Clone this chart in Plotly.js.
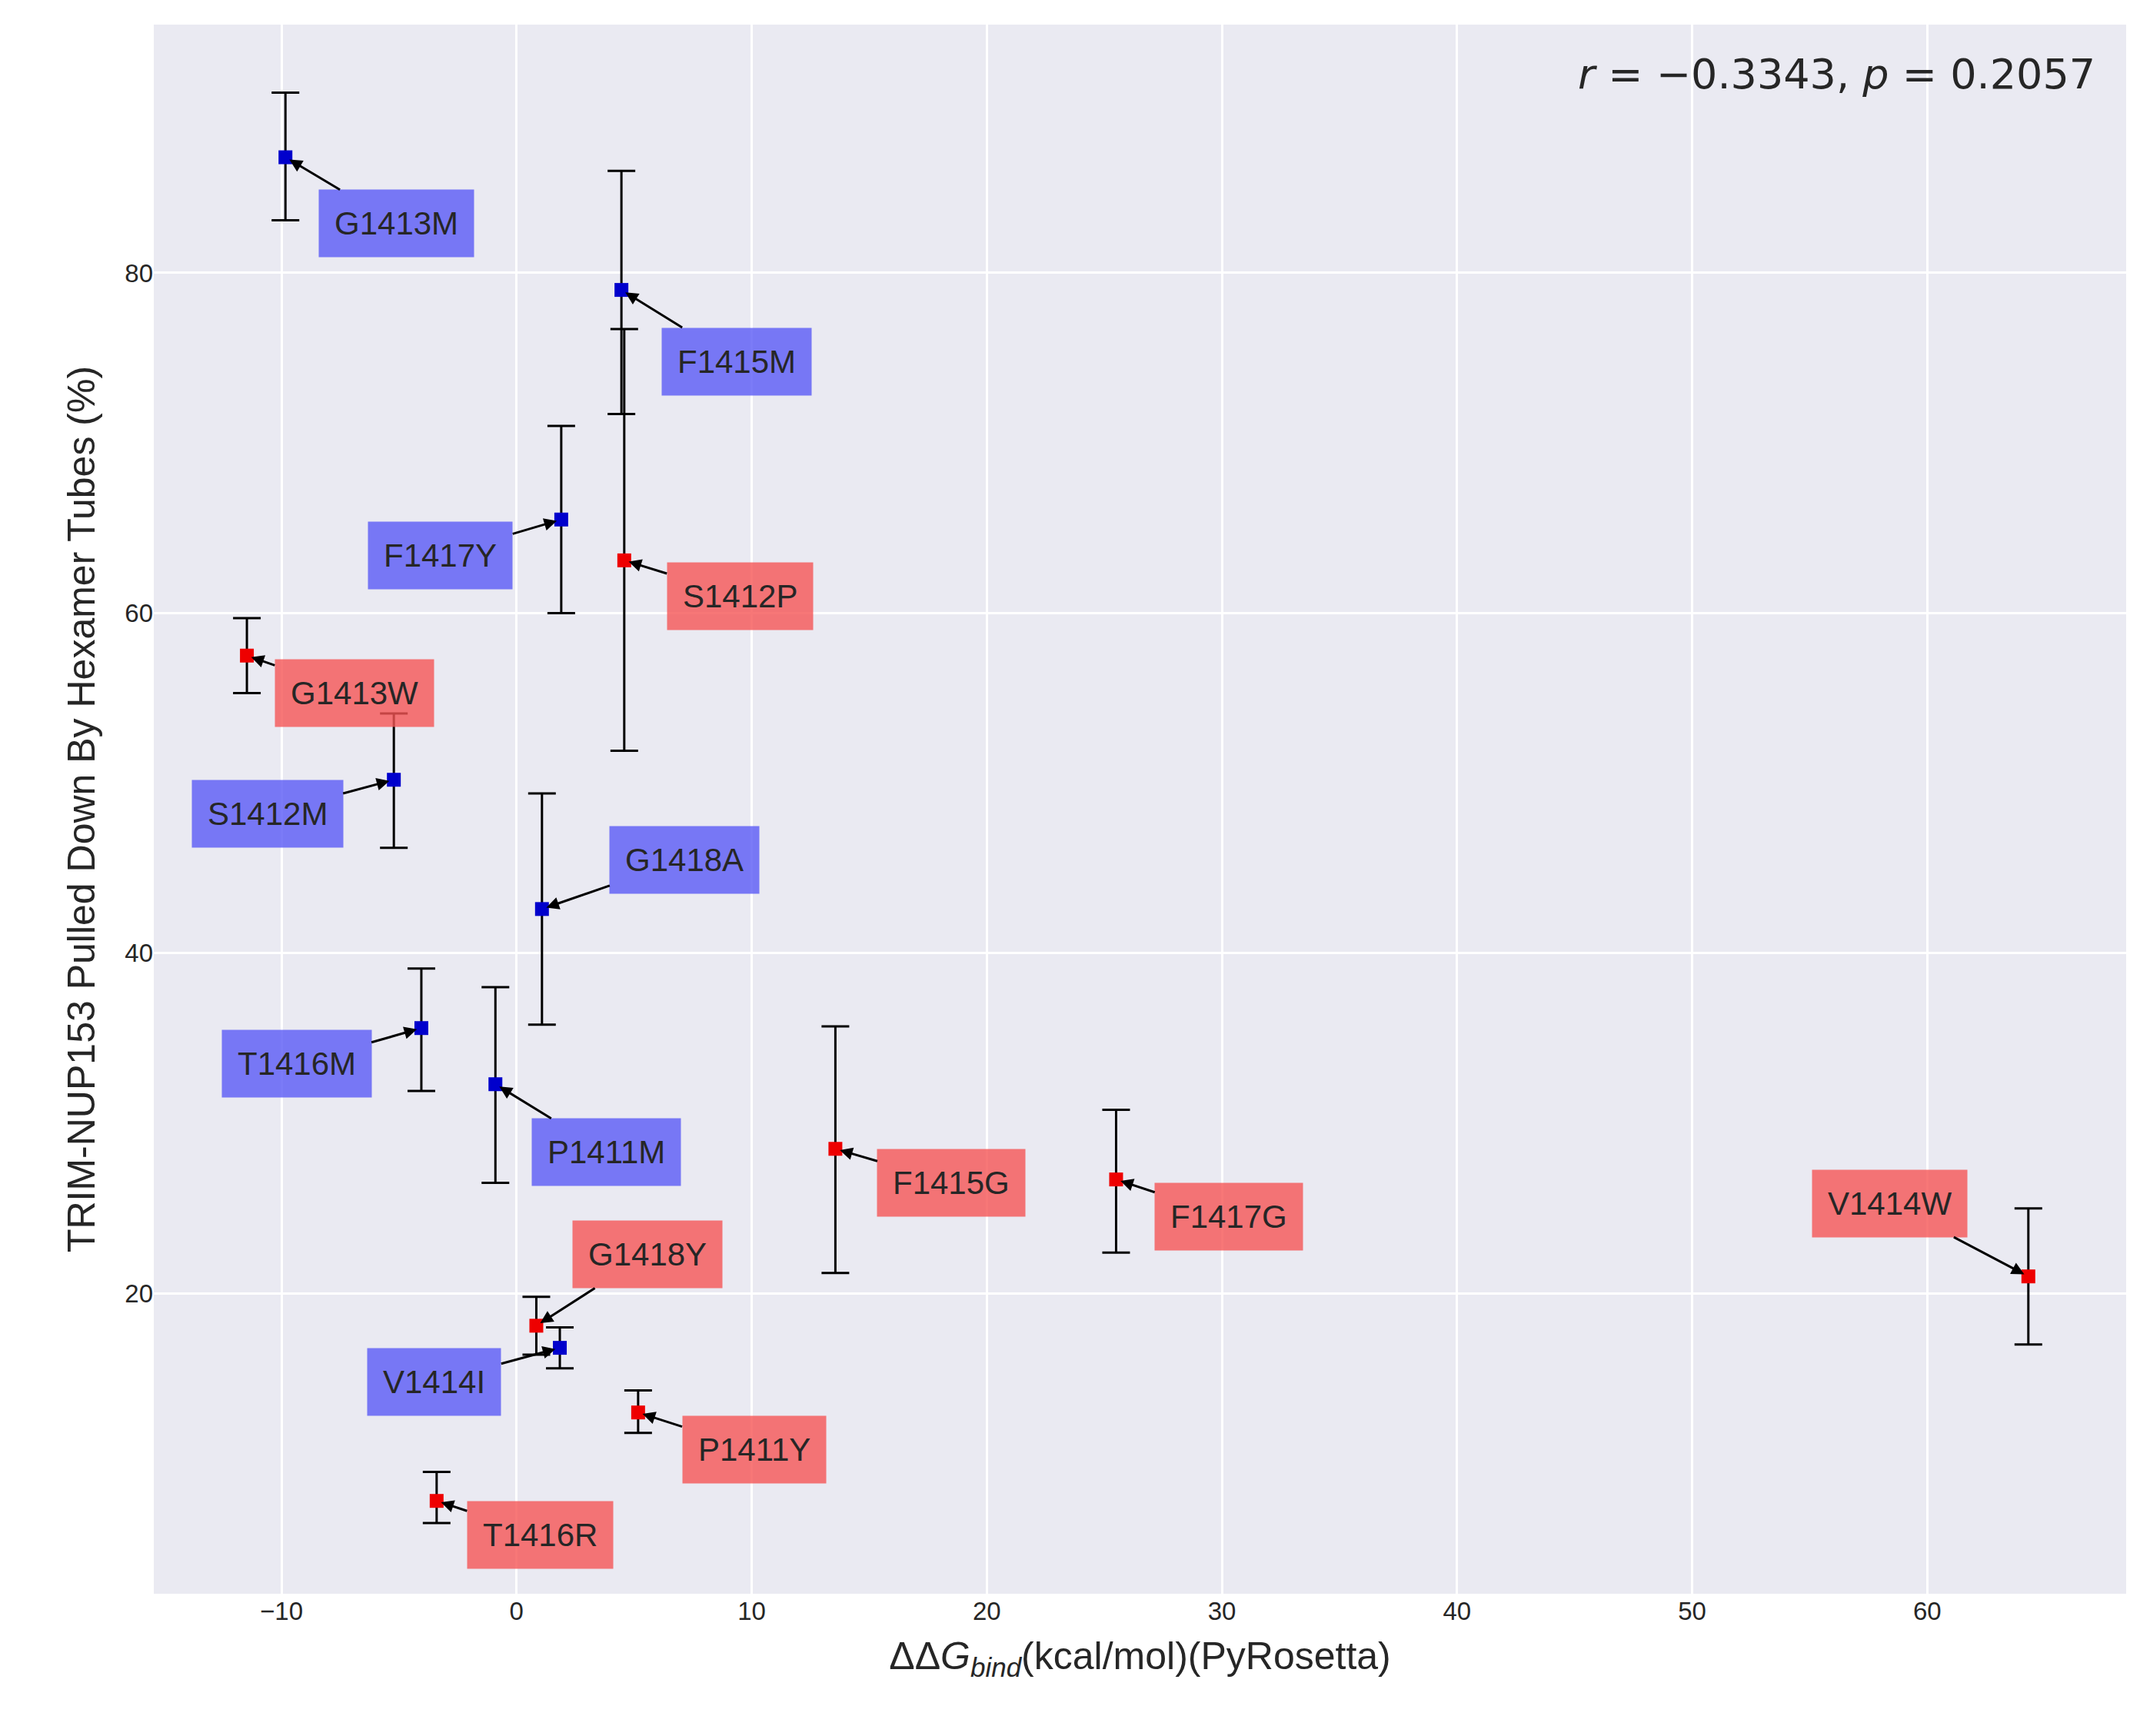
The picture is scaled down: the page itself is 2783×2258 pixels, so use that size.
<!DOCTYPE html>
<html>
<head>
<script src="https://cdn.plot.ly/plotly-3.0.1.min.js"></script>
<style>body{margin:0;background:#fff}</style>
</head>
<body>
<div id="chart" style="width:2783px;height:2258px"></div>
<script>
var labels = ["G1413M","F1415M","F1417Y","S1412P","G1413W","S1412M","G1418A","T1416M","P1411M","F1415G","F1417G","V1414W","G1418Y","V1414I","P1411Y","T1416R"];
var ddg = [-9.83,4.46,1.9,4.58,-11.47,-5.22,1.08,-4.05,-0.9,13.56,25.5,64.3,0.84,1.84,5.17,-3.4];
var pulled = [86.8,79.0,65.5,63.1,57.5,50.2,42.6,35.6,32.3,28.5,26.7,21.0,18.1,16.8,13.0,7.8];
var errPlus = [3.8,7.0,5.5,13.6,2.2,3.9,6.8,3.5,5.7,7.2,4.1,4.0,1.7,1.2,1.3,1.7];
var errMinus = [3.7,7.3,5.5,11.2,2.2,4.0,6.8,3.7,5.8,7.3,4.3,4.0,1.7,1.2,1.2,1.3];
var labelX = [-5.1,9.37,-3.24,9.5,-6.9,-10.6,7.15,-9.36,3.82,18.5,30.3,58.4,5.57,-3.5,10.1,1.0];
var labelY = [82.9,74.8,63.4,61.0,55.3,48.2,45.5,33.5,28.3,26.5,24.5,25.3,22.3,14.8,10.8,5.8];
var blueSet = ["G1413M","F1415M","F1417Y","S1412M","G1418A","T1416M","P1411M","V1414I"];

var isBlue = labels.map(l => blueSet.indexOf(l) >= 0);
var traces = [];
[true, false].forEach(function (b) {
    var idx = labels.map((l, i) => i).filter(i => isBlue[i] == b);
    traces.push({
        x: idx.map(i => ddg[i]),
        y: idx.map(i => pulled[i]),
        type: "scatter",
        mode: "markers",
        marker: {symbol: "square", size: 18, color: b ? "#0000cc" : "#ee0000"},
        error_y: {type: "data", symmetric: false, array: idx.map(i => errPlus[i]), arrayminus: idx.map(i => errMinus[i]), color: "black", thickness: 3, width: 18},
        error_x: {type: "data", value: 0.5, color: "black", thickness: 3, width: 12},
        showlegend: false
    });
});

var annotations = labels.map(function (l, i) {
    return {
        x: ddg[i], y: pulled[i], xref: "x", yref: "y",
        ax: labelX[i], ay: labelY[i], axref: "x", ayref: "y",
        text: l, showarrow: true, arrowhead: 2, arrowsize: 1.1, arrowwidth: 3,
        arrowcolor: "black", standoff: 6,
        bgcolor: isBlue[i] ? "rgba(90,90,245,0.8)" : "rgba(245,85,85,0.8)",
        borderpad: 20, font: {size: 42, color: "#262626", family: "Liberation Sans, Arial"}
    };
});
annotations.push({
    xref: "paper", yref: "paper", x: 0.985, y: 0.985, xanchor: "right", yanchor: "top",
    showarrow: false, text: "<i>r</i> = −0.3343, <i>p</i> = 0.2057",
    font: {size: 54, color: "#262626", family: "DejaVu Sans"}
});

var layout = {
    paper_bgcolor: "white",
    plot_bgcolor: "#eaeaf2",
    margin: {l: 200, r: 18, t: 32, b: 185},
    font: {family: "Liberation Sans, Arial", color: "#262626"},
    xaxis: {
        range: [-15.43, 68.46], dtick: 10, gridcolor: "white", gridwidth: 3,
        zeroline: false, ticks: "", tickfont: {size: 33},
        title: {text: "ΔΔ<i>G</i><sub><i>bind</i></sub>(kcal/mol)(PyRosetta)", font: {size: 50}, standoff: 22}
    },
    yaxis: {
        range: [2.34, 94.6], tickvals: [20, 40, 60, 80], gridcolor: "white", gridwidth: 3,
        zeroline: false, ticks: "", tickfont: {size: 33},
        title: {text: "TRIM-NUP153 Pulled Down By Hexamer Tubes (%)", font: {size: 50}, standoff: 22}
    },
    annotations: annotations
};

Plotly.newPlot("chart", traces, layout, {displayModeBar: false});
</script>
</body>
</html>
